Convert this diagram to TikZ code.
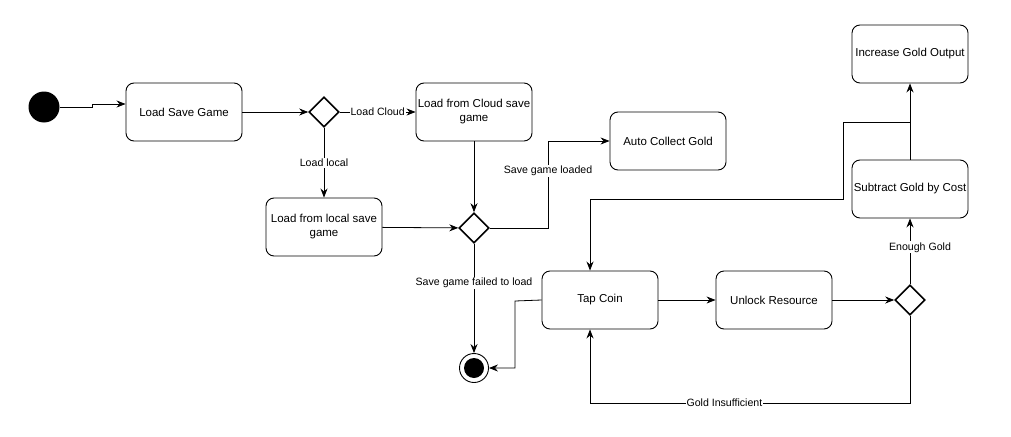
\documentclass[tikz,border=0pt]{standalone}
\usepackage{fontspec}
\setmainfont{Liberation Sans}
\usetikzlibrary{shapes,arrows.meta,positioning,calc}

\tikzset{
  state/.style={rectangle, rounded corners=8pt, draw, line width=0.9pt,
                minimum width=116pt, minimum height=58pt, inner sep=1pt,
                align=center, font=\fontsize{11.5}{14}\selectfont},
  decision/.style={diamond, draw, line width=1.6pt, minimum width=30pt,
                   minimum height=30pt, inner sep=0pt},
  flow/.style={line width=0.8pt, -{Stealth[length=9pt,width=7pt]}},
  link/.style={line width=0.8pt},
  guard/.style={fill=white, inner sep=1pt, font=\fontsize{10.6}{12}\selectfont},
}

\begin{document}
\begin{tikzpicture}[x=1pt, y=-1pt]
            \useasboundingbox (0,0) rectangle (1011,436);

            % start and end states
            \node[circle, fill, minimum size=31pt, inner sep=0pt] (start) at (44,107) {};
            \node[circle, draw, line width=0.9pt, minimum size=29pt, inner sep=0pt] (endstate) at (474,368) {};
            \node[circle, fill, minimum size=20pt, inner sep=0pt] (enddot) at (endstate) {};

            % loading
            \node[state] (loadsave) at (184,112) {Load Save Game};
            \node[decision] (loadwhere) at (324,112) {};
            \node[state] (loadcloud) at (474,112) {Load from Cloud save\\game};
            \node[state] (loadlocal) at (324,227) {Load from local save\\game};
            \node[decision] (loaded) at (474,228) {};
            \node[state] (autocollect) at (668,141) {Auto Collect Gold};

            % game loop
            \node[state] (tapcoin) at (600,300) {Tap Coin};
            \node[state] (unlock) at (774,300) {Unlock Resource};
            \node[decision] (enough) at (910,300) {};
            \node[state] (subtract) at (910,189) {Subtract Gold by Cost};
            \node[state] (increase) at (910,54) {Increase Gold Output};

            % connectors
            \draw[flow] (start.east) -- (92,107) -- (92,104) -- (loadsave.west |- 0,104);
            \draw[flow] (loadsave) -- (loadwhere);
            \draw[flow] (loadwhere) -- (loadcloud) node[guard, pos=0.5] {Load Cloud};
            \draw[flow] (loadwhere) -- (loadlocal) node[guard, pos=0.5] {Load local};
            \draw[flow] (loadcloud) -- (loaded);
            \draw[flow] (loadlocal) -- (loaded);
            \draw[flow] (loaded.east) -- (548,228) |- (autocollect.west)
                node[guard, pos=0.33] {Save game loaded};
            \draw[flow] (loaded) -- (endstate) node[guard, pos=0.36] {Save game failed to load};
            \draw[flow] (tapcoin.west) -- (515,301) |- (endstate);
            \draw[flow] (tapcoin) -- (unlock);
            \draw[flow] (unlock) -- (enough);
            \draw[flow] (enough) -- (subtract)
                node[guard, pos=0.56, xshift=10pt] {Enough Gold};
            \draw[flow] (subtract) -- (increase);
            \draw[flow] (subtract.north) -- (910,122) -| (843,199) -| ([xshift=-10pt]tapcoin.north);
            \draw[flow] (enough.south) -- (910,403) -| ([xshift=-10pt]tapcoin.south)
                node[guard, pos=0.29] {Gold Insufficient};
        \end{tikzpicture}
\end{document}
